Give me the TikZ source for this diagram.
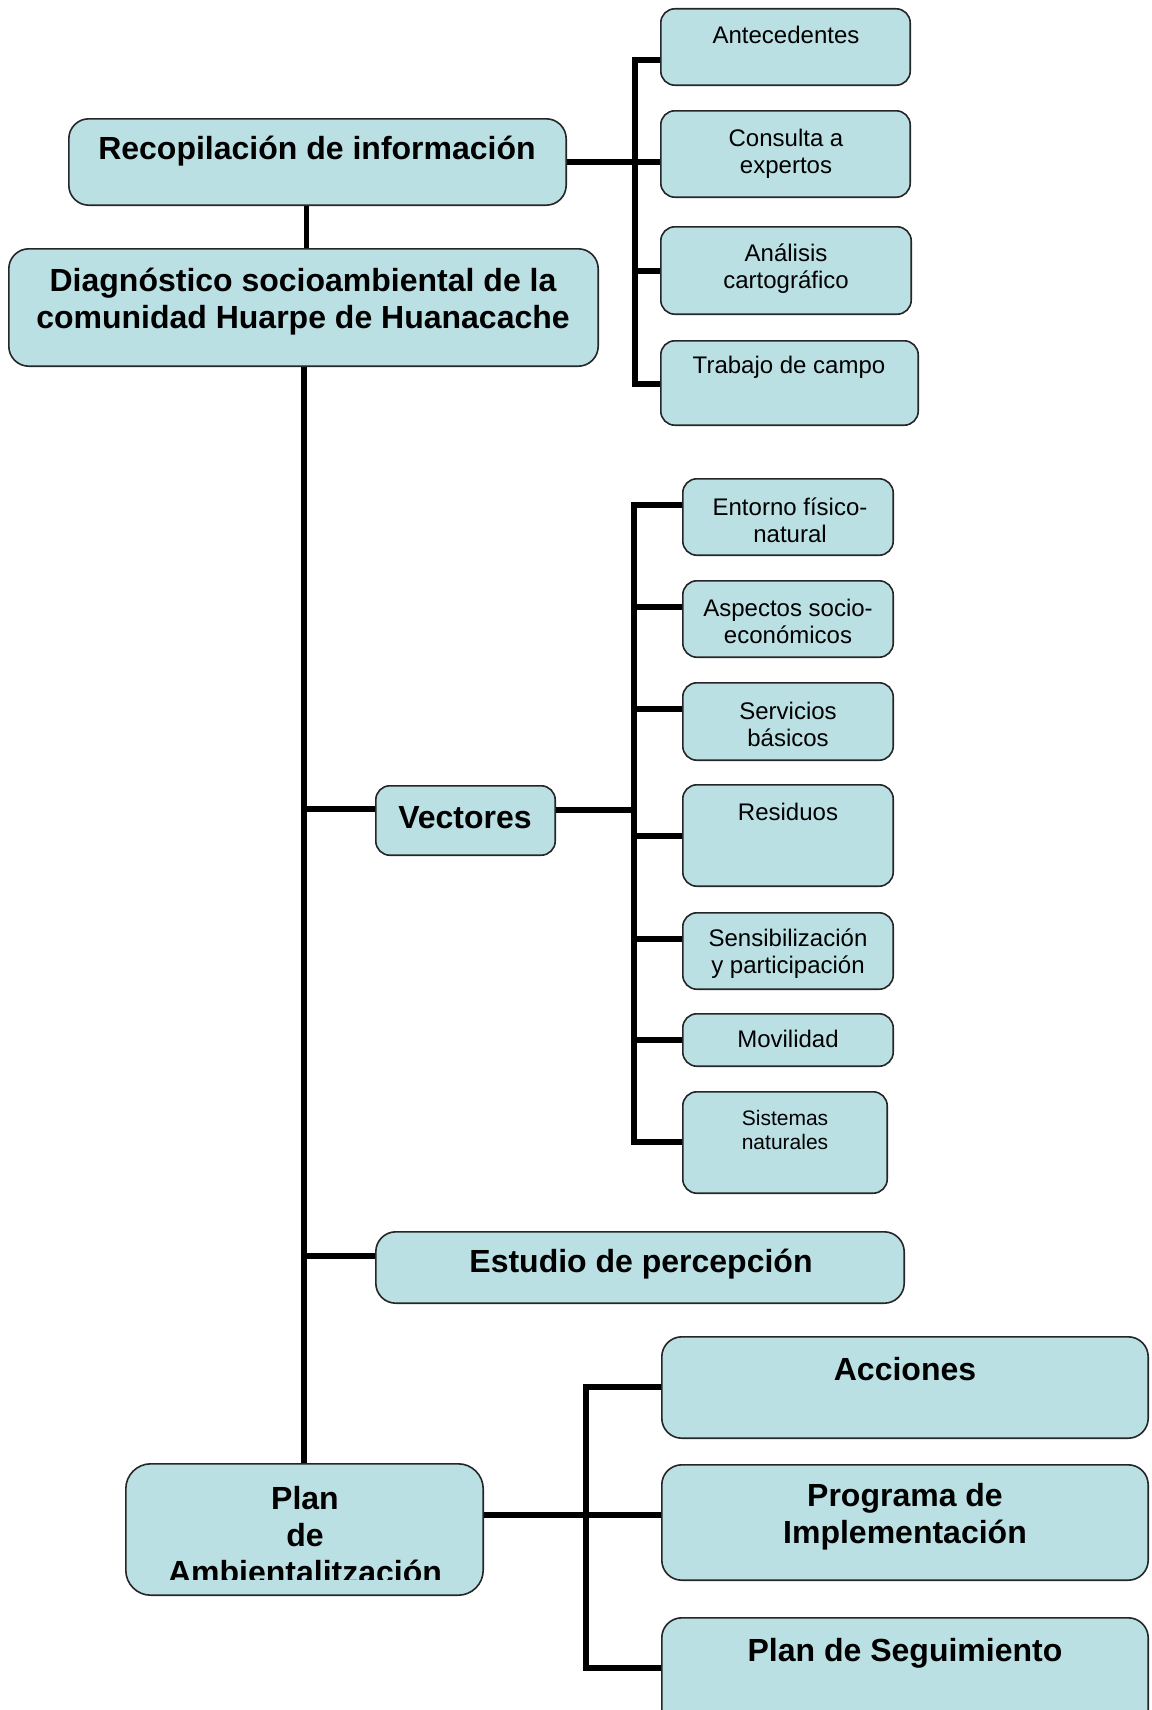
\documentclass[tikz,border=0pt]{standalone}
\usepackage{fontspec}
\setmainfont{Liberation Sans}
\usetikzlibrary{fit}
\definecolor{boxc}{RGB}{186,224,228}
\begin{document}
\begin{tikzpicture}[x=1pt,y=-1pt,
  box/.style={draw=black!85, line width=1.6pt, fill=boxc, rounded corners=14pt, inner sep=0pt},
  bigbox/.style={box, rounded corners=20pt},
  conn/.style={line width=6pt, line cap=rect},
  st/.style={align=center, inner sep=0pt, font=\fontsize{24}{27}\selectfont},
  sst/.style={align=center, inner sep=0pt, font=\fontsize{21}{24}\selectfont},
  bt/.style={align=center, inner sep=0pt, font=\fontsize{32}{37}\selectfont\bfseries}]
\useasboundingbox (0,0) rectangle (1151,1710);
\clip (0,0) rectangle (1151,1710);

% ---------- boxes (invisible placement first for names) ----------
\path
  node[fit={(661,9) (910,85)}, inner sep=0pt] (ant) {}
  node[fit={(661,111) (910,197)}, inner sep=0pt] (con) {}
  node[fit={(661,227) (911,314)}, inner sep=0pt] (ana) {}
  node[fit={(661,341) (918,425)}, inner sep=0pt] (tra) {}
  node[fit={(69,119) (566,205)}, inner sep=0pt] (rec) {}
  node[fit={(9,249) (598,366)}, inner sep=0pt] (dia) {}
  node[fit={(376,786) (555,855)}, inner sep=0pt] (vec) {}
  node[fit={(683,479) (893,555)}, inner sep=0pt] (ent) {}
  node[fit={(683,581) (893,657)}, inner sep=0pt] (asp) {}
  node[fit={(683,683) (893,760)}, inner sep=0pt] (ser) {}
  node[fit={(683,785) (893,886)}, inner sep=0pt] (res) {}
  node[fit={(683,913) (893,989)}, inner sep=0pt] (sen) {}
  node[fit={(683,1014) (893,1066)}, inner sep=0pt] (mov) {}
  node[fit={(683,1092) (887,1193)}, inner sep=0pt] (sis) {}
  node[fit={(376,1232) (904,1303)}, inner sep=0pt] (est) {}
  node[fit={(662,1337) (1148,1438)}, inner sep=0pt] (acc) {}
  node[fit={(662,1465) (1148,1580)}, inner sep=0pt] (pro) {}
  node[fit={(662,1618) (1148,1740)}, inner sep=0pt] (seg) {}
  node[fit={(126,1464) (483,1595)}, inner sep=0pt] (plan) {};

% ---------- connectors ----------
% top bracket
\coordinate (a1) at (635,60);
\coordinate (a2) at (635,162);
\coordinate (a3) at (635,271);
\coordinate (a4) at (635,384);
\draw[conn] (a1) -- (a4);
\draw[conn] (a2 -| rec.east) -- (a2);
\draw[conn] (a1) -- (a1 -| ant.west);
\draw[conn] (a2) -- (a2 -| con.west);
\draw[conn] (a3) -- (a3 -| ana.west);
\draw[conn] (a4) -- (a4 -| tra.west);
% recopilacion -> diagnostico
\coordinate (r1) at (306,205);
\draw[line width=5pt] (r1) -- (r1 |- dia.north);
% main spine
\draw[conn] (dia.south) -- (dia.south |- plan.north);
\coordinate (m1) at (304,809);
\coordinate (m2) at (304,1256);
\draw[conn] (m1) -- (m1 -| vec.west);
\draw[conn] (m2) -- (m2 -| est.west);
% vectores bracket
\coordinate (b0) at (634,810);
\coordinate (b1) at (634,505);
\coordinate (b2) at (634,607);
\coordinate (b3) at (634,709);
\coordinate (b4) at (634,836);
\coordinate (b5) at (634,939);
\coordinate (b6) at (634,1040);
\coordinate (b7) at (634,1142);
\draw[conn] (b1) -- (b7);
\draw[conn] (b0 -| vec.east) -- (b0);
\draw[conn] (b1) -- (b1 -| ent.west);
\draw[conn] (b2) -- (b2 -| asp.west);
\draw[conn] (b3) -- (b3 -| ser.west);
\draw[conn] (b4) -- (b4 -| res.west);
\draw[conn] (b5) -- (b5 -| sen.west);
\draw[conn] (b6) -- (b6 -| mov.west);
\draw[conn] (b7) -- (b7 -| sis.west);
% plan bracket
\coordinate (c0) at (586,1515);
\coordinate (c1) at (586,1387);
\coordinate (c3) at (586,1668);
\draw[conn] (c1) -- (c3);
\draw[conn] (c0 -| plan.east) -- (c0);
\draw[conn] (c1) -- (c1 -| acc.west);
\draw[conn] (c0) -- (c0 -| pro.west);
\draw[conn] (c3) -- (c3 -| seg.west);

% ---------- visible boxes ----------
\foreach \n in {ant,con,ana,tra,vec,ent,asp,ser,res,sen,mov,sis}
  \draw[box] (\n.north west) rectangle (\n.south east);
\foreach \n in {rec,dia,est,acc,pro,seg}
  \draw[bigbox] (\n.north west) rectangle (\n.south east);
\draw[box, rounded corners=25pt] (plan.north west) rectangle (plan.south east);

% ---------- texts ----------
\node[st] (antT) at (786,35) {Antecedentes};
\node[st] (conT) at (786,154) {Consulta a\\expertos};
\node[st] (anaT) at (786,269) {Análisis\\cartográfico};
\node[st] (traT) at (789,367) {Trabajo de campo};
\node[bt] (recT) at (317,151) {Recopilación de información};
\node[bt] (diaT) at (303,302) {Diagnóstico socioambiental de la\\comunidad Huarpe de Huanacache};
\node[bt] (vecT) at (465,818) {Vectores};
\node[st] (entT) at (790,520) {Entorno físico-\\natural};
\node[st] (aspT) at (788,621) {Aspectos socio-\\económicos};
\node[st] (serT) at (788,724) {Servicios\\básicos};
\node[st] (resT) at (788,812) {Residuos};
\node[st] (senT) at (788,954) {Sensibilización\\y participación};
\node[st] (movT) at (788,1039) {Movilidad};
\node[sst] (sisT) at (785,1130) {Sistemas\\naturales};
\node[bt] (estT) at (641,1264) {Estudio de percepción};
\node[bt] (accT) at (905,1369) {Acciones};
\node[bt] (proT) at (905,1517) {Programa de\\Implementación};
\node[bt] (segT) at (905,1653) {Plan de Seguimiento};
\begin{scope}
  \clip (126,1464) rectangle (483,1579);
  \node[bt] (planT) at (305,1535) {Plan\\de\\Ambientalitzación};
\end{scope}
\end{tikzpicture}
\end{document}
